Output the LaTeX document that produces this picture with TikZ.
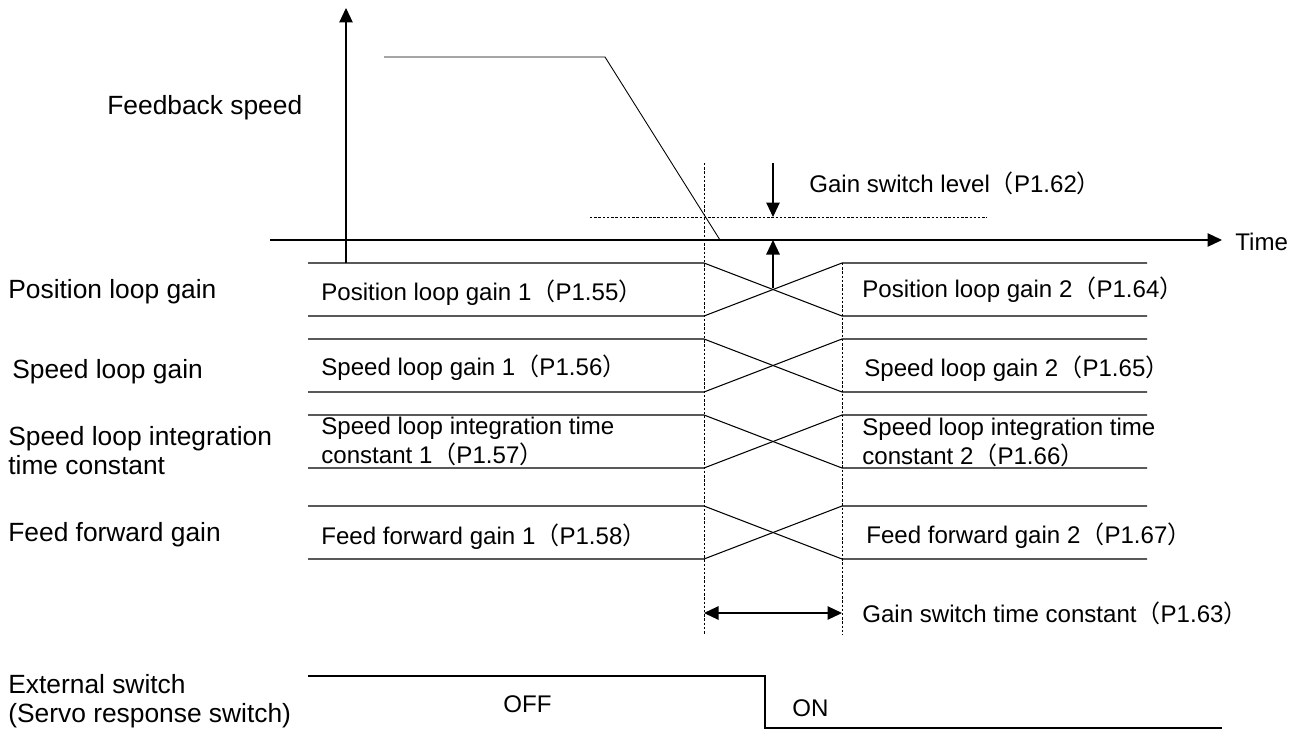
\documentclass[tikz,border=0pt]{standalone}
\usepackage{fontspec}
\setmainfont{Liberation Sans}
\newfontfamily\cjk{Noto Sans CJK SC}
\usetikzlibrary{arrows.meta}

\newcommand{\lp}{{\cjk （}}
\newcommand{\rp}{{\cjk ）}}

\tikzset{
  sig/.style={line width=0.6pt},
  guide/.style={line width=0.45pt, dash pattern=on 1.4pt off 1pt},
  lbl/.style={anchor=west, inner sep=0pt, align=left, font=\fontsize{15}{16.5}\selectfont},
  sublbl/.style={anchor=west, inner sep=0pt, align=left, font=\fontsize{13.7}{16.5}\selectfont},
}

\begin{document}
\begin{tikzpicture}[x=0.02cm, y=-0.02cm, >={Triangle[length=0.29cm, width=0.27cm]}]
\useasboundingbox (0,0) rectangle (1300,734);

% Axes
\coordinate (yfoot) at (346,263);
\coordinate (ytip) at (346,8);
\coordinate (tstart) at (270,240);
\coordinate (ttip) at (1222,240);
\draw[sig, ->] (yfoot) -- (ytip);
\draw[sig, ->] (tstart) -- (ttip);
\node[sublbl] (time) at (1235,242) {Time};
\node[lbl] (fbspeed) at (107,108) {Feedback speed};

% Feedback speed curve
\coordinate (sp1) at (384,57);
\coordinate (sp2) at (605,57);
\coordinate (sp3) at (720,240);
\draw[line width=0.5pt] (sp1) -- (sp2) -- (sp3);

% Gain switch level
\draw[guide] (590,217) -- (987,217);
\coordinate (lvltop) at (773,163);
\coordinate (lvl) at (773,217);
\coordinate (cross) at (773,288);
\coordinate (axis) at (773,240);
\draw[sig, ->] (lvltop) -- (lvl);
\draw[sig, ->] (cross) -- (axis);
\node[sublbl] (lvllbl) at (809,183) {Gain switch level\lp P1.62\rp};

% Switch instants
\draw[guide] (704,163) -- (704,635);
\draw[guide] (842,263) -- (842,635);

% Position loop gain
\draw[sig] (308,263) -- (704,263) -- (842,316) -- (1147,316);
\draw[sig] (308,316) -- (704,316) -- (842,263) -- (1147,263);
\node[lbl] (pos) at (8,292) {Position loop gain};
\node[sublbl] (pos1) at (321,293) {Position loop gain 1\lp P1.55\rp};
\node[sublbl] (pos2) at (862,290) {Position loop gain 2\lp P1.64\rp};

% Speed loop gain
\draw[sig] (308,339) -- (704,339) -- (842,392) -- (1147,392);
\draw[sig] (308,392) -- (704,392) -- (842,339) -- (1147,339);
\node[lbl] (spd) at (12,372) {Speed loop gain};
\node[sublbl] (spd1) at (321,368) {Speed loop gain 1\lp P1.56\rp};
\node[sublbl] (spd2) at (864,369) {Speed loop gain 2\lp P1.65\rp};

% Speed loop integration time constant
\draw[sig] (308,415) -- (704,415) -- (842,468) -- (1147,468);
\draw[sig] (308,468) -- (704,468) -- (842,415) -- (1147,415);
\node[lbl] (integ) at (8,451) {Speed loop integration\\time constant};
\node[sublbl] (integ1) at (321,441) {Speed loop integration time\\constant 1\lp P1.57\rp};
\node[sublbl] (integ2) at (862,442) {Speed loop integration time\\constant 2\lp P1.66\rp};

% Feed forward gain
\draw[sig] (308,506) -- (704,506) -- (842,559) -- (1147,559);
\draw[sig] (308,559) -- (704,559) -- (842,506) -- (1147,506);
\node[lbl] (ff) at (8,535) {Feed forward gain};
\node[sublbl] (ff1) at (321,537) {Feed forward gain 1\lp P1.58\rp};
\node[sublbl] (ff2) at (866,536) {Feed forward gain 2\lp P1.67\rp};

% Gain switch time constant
\coordinate (tc1) at (704,613);
\coordinate (tc2) at (842,613);
\draw[sig, <->] (tc1) -- (tc2);
\node[sublbl] (tclbl) at (862,613) {Gain switch time constant\lp P1.63\rp};

% External switch
\draw[sig] (308,676) -- (765,676) -- (765,728) -- (1222,728);
\node[lbl] (ext) at (8,701) {External switch\\(Servo response switch)};
\node[sublbl] (off) at (503,704) {OFF};
\node[sublbl] (on) at (792,708) {ON};

\end{tikzpicture}
\end{document}
